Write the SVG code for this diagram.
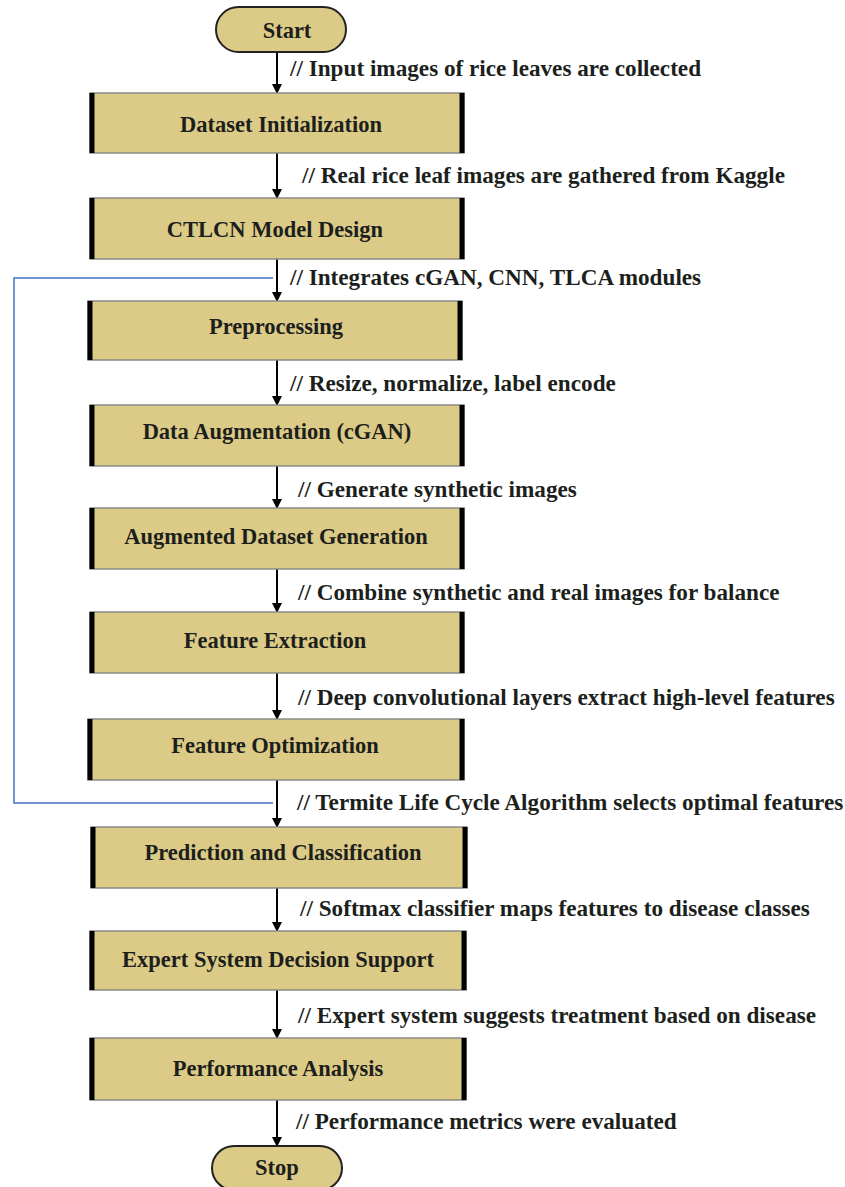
<svg xmlns="http://www.w3.org/2000/svg" width="845" height="1187" viewBox="0 0 845 1187">
  <style>
    .box { fill: #dccb87; stroke: #8a8a8a; stroke-width: 1.5; }
    .side { stroke: #000; stroke-width: 5; }
    .term { fill: #dccb87; stroke: #222; stroke-width: 2; }
    .lbl { font-family: "Liberation Serif", "Times New Roman", serif; font-weight: bold; font-size: 22.5px; fill: #1c1f1c; text-anchor: middle; dominant-baseline: central; }
    .note { font-family: "Liberation Serif", "Times New Roman", serif; font-weight: bold; font-size: 23.2px; fill: #1c1f1c; dominant-baseline: central; }
    .arrow { stroke: #000; stroke-width: 2; fill: none; marker-end: url(#head); }
    .loop { stroke: #4472c4; stroke-width: 1.5; fill: none; }
  </style>
  <defs>
    <marker id="head" markerWidth="10" markerHeight="10" refX="9" refY="5" orient="auto" markerUnits="userSpaceOnUse">
      <path d="M0,0 L10,5 L0,10 Z" fill="#000"/>
    </marker>
  </defs>
  <rect width="845" height="1187" fill="#fff"/>

  <!-- connectors -->
  <g id="connectors">
    <path class="loop" d="M273,278 H14 V803 H273"/>
    <line class="arrow" x1="277" y1="52" x2="277" y2="93"/>
    <line class="arrow" x1="277" y1="153" x2="277" y2="198"/>
    <line class="arrow" x1="277" y1="259" x2="277" y2="301"/>
    <line class="arrow" x1="277" y1="360" x2="277" y2="405"/>
    <line class="arrow" x1="277" y1="466" x2="277" y2="508"/>
    <line class="arrow" x1="277" y1="569" x2="277" y2="612"/>
    <line class="arrow" x1="277" y1="673" x2="277" y2="719"/>
    <line class="arrow" x1="277" y1="780" x2="277" y2="827"/>
    <line class="arrow" x1="277" y1="888" x2="277" y2="931"/>
    <line class="arrow" x1="277" y1="990" x2="277" y2="1038"/>
    <line class="arrow" x1="277" y1="1100" x2="277" y2="1146"/>
    <text class="note" x="290" y="68">// Input images of rice leaves are collected</text>
    <text class="note" x="302" y="175">// Real rice leaf images are gathered from Kaggle</text>
    <text class="note" x="290" y="277">// Integrates cGAN, CNN, TLCA modules</text>
    <text class="note" x="290" y="383">// Resize, normalize, label encode</text>
    <text class="note" x="298" y="489">// Generate synthetic images</text>
    <text class="note" x="298" y="592">// Combine synthetic and real images for balance</text>
    <text class="note" x="298" y="697">// Deep convolutional layers extract high-level features</text>
    <text class="note" x="297" y="802">// Termite Life Cycle Algorithm selects optimal features</text>
    <text class="note" x="300" y="908">// Softmax classifier maps features to disease classes</text>
    <text class="note" x="298" y="1015">// Expert system suggests treatment based on disease</text>
    <text class="note" x="296" y="1121">// Performance metrics were evaluated</text>
  </g>

  <g id="start">
    <rect class="term" x="216" y="7" width="130" height="45" rx="22.5"/>
    <text class="lbl" x="287" y="30">Start</text>
  </g>

  <g id="dataset-initialization">
    <rect class="box" x="90" y="93" width="374" height="60"/>
    <line class="side" x1="92" y1="93" x2="92" y2="153"/><line class="side" x1="462" y1="93" x2="462" y2="153"/>
    <text class="lbl" x="281" y="124">Dataset Initialization</text>
  </g>
  <g id="ctlcn-model-design">
    <rect class="box" x="90" y="198" width="374" height="61"/>
    <line class="side" x1="92" y1="198" x2="92" y2="259"/><line class="side" x1="462" y1="198" x2="462" y2="259"/>
    <text class="lbl" x="275" y="229">CTLCN Model Design</text>
  </g>
  <g id="preprocessing">
    <rect class="box" x="88" y="301" width="374" height="59"/>
    <line class="side" x1="90" y1="301" x2="90" y2="360"/><line class="side" x1="460" y1="301" x2="460" y2="360"/>
    <text class="lbl" x="276" y="326">Preprocessing</text>
  </g>
  <g id="data-augmentation">
    <rect class="box" x="90" y="405" width="374" height="61"/>
    <line class="side" x1="92" y1="405" x2="92" y2="466"/><line class="side" x1="462" y1="405" x2="462" y2="466"/>
    <text class="lbl" x="277" y="431">Data Augmentation (cGAN)</text>
  </g>
  <g id="augmented-dataset-generation">
    <rect class="box" x="90" y="508" width="374" height="61"/>
    <line class="side" x1="92" y1="508" x2="92" y2="569"/><line class="side" x1="462" y1="508" x2="462" y2="569"/>
    <text class="lbl" x="276" y="536">Augmented Dataset Generation</text>
  </g>
  <g id="feature-extraction">
    <rect class="box" x="90" y="612" width="374" height="61"/>
    <line class="side" x1="92" y1="612" x2="92" y2="673"/><line class="side" x1="462" y1="612" x2="462" y2="673"/>
    <text class="lbl" x="275" y="640">Feature Extraction</text>
  </g>
  <g id="feature-optimization">
    <rect class="box" x="88" y="719" width="376" height="61"/>
    <line class="side" x1="90" y1="719" x2="90" y2="780"/><line class="side" x1="462" y1="719" x2="462" y2="780"/>
    <text class="lbl" x="275" y="745">Feature Optimization</text>
  </g>
  <g id="prediction-classification">
    <rect class="box" x="91" y="827" width="376" height="61"/>
    <line class="side" x1="93" y1="827" x2="93" y2="888"/><line class="side" x1="465" y1="827" x2="465" y2="888"/>
    <text class="lbl" x="283" y="852">Prediction and Classification</text>
  </g>
  <g id="expert-system-decision-support">
    <rect class="box" x="90" y="931" width="376" height="59"/>
    <line class="side" x1="92" y1="931" x2="92" y2="990"/><line class="side" x1="464" y1="931" x2="464" y2="990"/>
    <text class="lbl" x="278" y="959">Expert System Decision Support</text>
  </g>
  <g id="performance-analysis">
    <rect class="box" x="90" y="1038" width="376" height="62"/>
    <line class="side" x1="92" y1="1038" x2="92" y2="1100"/><line class="side" x1="464" y1="1038" x2="464" y2="1100"/>
    <text class="lbl" x="278" y="1068">Performance Analysis</text>
  </g>

  <g id="stop">
    <rect class="term" x="212" y="1146" width="130" height="44" rx="22"/>
    <text class="lbl" x="277" y="1167">Stop</text>
  </g>
</svg>
